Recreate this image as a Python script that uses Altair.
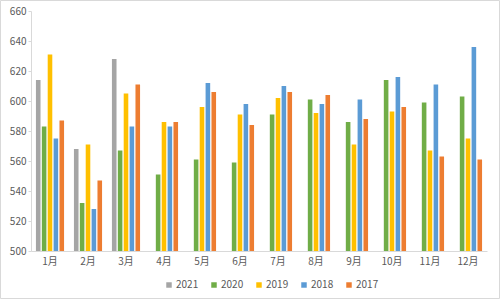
import altair as alt
import pandas as pd

months = ["1月", "2月", "3月", "4月", "5月", "6月", "7月", "8月", "9月", "10月", "11月", "12月"]
series = ["2021", "2020", "2019", "2018", "2017"]
colors = ["#A5A5A5", "#70AD47", "#FFC000", "#5B9BD5", "#ED7D31"]

v2021 = [614, 568, 628, None, None, None, None, None, None, None, None, None]
v2020 = [583, 532, 567, 551, 561, 559, 591, 601, 586, 614, 599, 603]
v2019 = [631, 571, 605, 586, 596, 591, 602, 592, 571, 593, 567, 575]
v2018 = [575, 528, 583, 583, 612, 598, 610, 598, 601, 616, 611, 636]
v2017 = [587, 547, 611, 586, 606, 584, 606, 604, 588, 596, 563, 561]

rows = []
for s, vals in zip(series, [v2021, v2020, v2019, v2018, v2017]):
    for m, v in zip(months, vals):
        if v is not None:
            rows.append({"month": m, "series": s, "value": v})
df = pd.DataFrame(rows)

FONT = "Noto Sans CJK SC"
W, H = 456, 240

bars = alt.Chart(df).mark_bar().encode(
    x=alt.X("month:N", sort=months, title=None,
            scale=alt.Scale(paddingInner=0.26, paddingOuter=0.13),
            axis=alt.Axis(labelAngle=0, labelColor="#595959", labelFontSize=10,
                          labelFont=FONT, domainColor="#D9D9D9", ticks=False,
                          labelPadding=5)),
    xOffset=alt.XOffset("series:N", sort=series,
                        scale=alt.Scale(paddingInner=0.22)),
    y=alt.Y("value:Q", title=None,
            scale=alt.Scale(domain=[500, 660], zero=False, nice=False),
            axis=alt.Axis(values=list(range(500, 661, 20)), grid=False,
                          labelColor="#595959", labelFontSize=10, labelFont=FONT,
                          domainColor="#D9D9D9", tickColor="#D9D9D9", tickSize=3,
                          labelPadding=2)),
    y2=alt.datum(500),
    color=alt.Color("series:N", sort=series,
                    scale=alt.Scale(domain=series, range=colors),
                    legend=alt.Legend(title=None, orient="none", direction="horizontal",
                                      legendX=133, legendY=269,
                                      symbolType="square", symbolSize=30,
                                      symbolStrokeWidth=0,
                                      labelFontSize=10, labelFont=FONT,
                                      labelColor="#595959", columnPadding=10,
                                      labelOffset=2)),
)

border = alt.Chart(pd.DataFrame({"a": [0]})).mark_rect(
    fill=None, stroke="#D9D9D9", strokeWidth=1
).encode(
    x=alt.value(-30.5), x2=alt.value(W + 12.5),
    y=alt.value(-10.5), y2=alt.value(H + 47.5)
)

chart = alt.layer(border, bars).properties(
    width=W, height=H,
    autosize=alt.AutoSizeParams(type="none"),
    padding={"left": 31, "top": 11, "right": 13, "bottom": 49},
    background="white",
).configure_view(stroke=None)

chart.save("out.html", embed_options={"renderer": "svg", "actions": False})
